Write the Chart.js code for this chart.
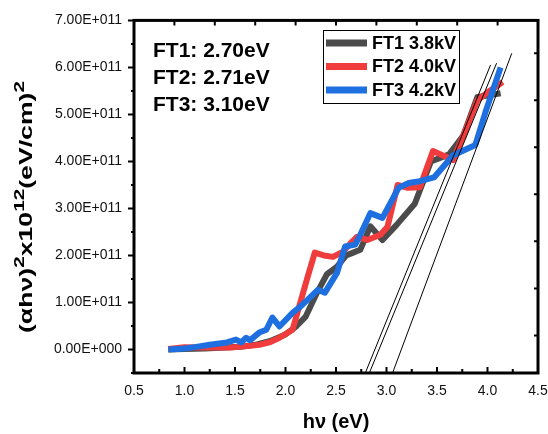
<!DOCTYPE html>
<html>
<head>
<meta charset="utf-8">
<script src="https://cdn.jsdelivr.net/npm/chart.js@4.4.0/dist/chart.umd.min.js"></script>
<style>
  html, body { margin: 0; padding: 0; background: #fff; }
  canvas { display: block; }
</style>
</head>
<body>
<canvas id="taucChart" width="548" height="434"></canvas>
<script>
// Tauc plot data: photon energy (eV) vs (alpha h nu)^2
const ft1Energy = [0.84, 1.00, 1.20, 1.40, 1.55, 1.70, 1.85, 2.00, 2.10, 2.20, 2.31, 2.41, 2.51, 2.60, 2.67, 2.74, 2.84, 2.96, 3.10, 3.28, 3.44, 3.62, 3.76, 3.90, 4.00, 4.13];
const ft1Values = [0, 0.01e11, 0.02e11, 0.04e11, 0.06e11, 0.10e11, 0.18e11, 0.32e11, 0.48e11, 0.70e11, 1.20e11, 1.60e11, 1.76e11, 2.00e11, 2.06e11, 2.12e11, 2.62e11, 2.33e11, 2.65e11, 3.10e11, 4.00e11, 4.15e11, 4.55e11, 5.37e11, 5.40e11, 5.45e11];

const ft2Energy = [0.84, 1.00, 1.20, 1.45, 1.60, 1.74, 1.85, 1.94, 2.07, 2.14, 2.22, 2.29, 2.38, 2.47, 2.57, 2.64, 2.71, 2.81, 2.94, 3.01, 3.11, 3.21, 3.33, 3.46, 3.66, 3.77, 3.90, 4.02, 4.15];
const ft2Values = [0.01e11, 0.05e11, 0.04e11, 0.04e11, 0.07e11, 0.10e11, 0.16e11, 0.25e11, 0.42e11, 0.95e11, 1.55e11, 2.06e11, 2.00e11, 1.97e11, 2.08e11, 2.25e11, 2.40e11, 2.33e11, 2.44e11, 2.61e11, 3.50e11, 3.44e11, 3.45e11, 4.22e11, 4.03e11, 4.60e11, 5.30e11, 5.50e11, 5.69e11];

const ft3Energy = [0.84, 1.00, 1.10, 1.25, 1.42, 1.51, 1.56, 1.61, 1.65, 1.74, 1.81, 1.87, 1.94, 2.07, 2.14, 2.22, 2.32, 2.39, 2.51, 2.59, 2.69, 2.74, 2.84, 2.96, 3.12, 3.22, 3.33, 3.47, 3.66, 3.88, 3.98, 4.13];
const ft3Values = [0, 0.02e11, 0.05e11, 0.10e11, 0.15e11, 0.21e11, 0.15e11, 0.25e11, 0.20e11, 0.36e11, 0.42e11, 0.68e11, 0.49e11, 0.78e11, 0.90e11, 1.06e11, 1.27e11, 1.21e11, 1.63e11, 2.19e11, 2.23e11, 2.44e11, 2.90e11, 2.80e11, 3.44e11, 3.54e11, 3.58e11, 3.66e11, 4.13e11, 4.35e11, 5.05e11, 6.00e11];

// linear extrapolation lines down to the x axis
const fit1Energy = [2.79, 4.03];
const fit1Values = [-0.5e11, 6.05e11];
const fit2Energy = [2.83, 4.09];
const fit2Values = [-0.5e11, 6.09e11];
const fit3Energy = [3.06, 4.24];
const fit3Values = [-0.5e11, 6.30e11];

const seriesLabels = ['FT1 3.8kV', 'FT2 4.0kV', 'FT3 4.2kV'];
const gapLabels = ['FT1: 2.70eV', 'FT2: 2.71eV', 'FT3: 3.10eV'];

const xTicks = [0.5, 1.0, 1.5, 2.0, 2.5, 3.0, 3.5, 4.0, 4.5];
const yTicks = [0, 1e11, 2e11, 3e11, 4e11, 5e11, 6e11, 7e11];

const FONT = "'Liberation Sans', Arial, sans-serif";
const colors = ['#4b4b4b', '#f03c3c', '#1e6fe0'];

function toPoints(xs, ys) {
  return xs.map((x, i) => ({ x: x, y: ys[i] }));
}

// 7e11 -> "7.00E+011"
function formatSci(v) {
  if (v === 0) return '0.00E+000';
  const e = Math.floor(Math.log10(Math.abs(v)));
  const m = v / Math.pow(10, e);
  return m.toFixed(2) + 'E' + (e < 0 ? '-' : '+') + String(Math.abs(e)).padStart(3, '0');
}

function fitLine(xs, ys) {
  return { label: '', data: toPoints(xs, ys), borderColor: '#000', borderWidth: 1, order: 0 };
}

// frame with tick marks on all four sides
const frame = {
  id: 'frame',
  afterDatasetsDraw(chart) {
    const { ctx, chartArea: a, scales: { x, y } } = chart;
    ctx.save();
    ctx.strokeStyle = '#000';
    ctx.lineWidth = 2;
    ctx.beginPath();
    // bottom: inward ticks
    for (let v = 0.5; v <= 4.5001; v += 0.25) {
      const px = x.getPixelForValue(v);
      const major = Math.abs(v * 2 - Math.round(v * 2)) < 1e-6;
      ctx.moveTo(px, a.bottom);
      ctx.lineTo(px, a.bottom - (major ? 6 : 4));
    }
    // top: inward ticks
    for (let v = 0.9; v <= 4.5; v += 0.4) {
      const px = x.getPixelForValue(v);
      ctx.moveTo(px, a.top);
      ctx.lineTo(px, a.top + 5);
    }
    // left: outward majors, minor halves
    for (let v = -0.5e11; v <= 7.0001e11; v += 0.5e11) {
      const py = y.getPixelForValue(v);
      const major = Math.abs(v / 1e11 - Math.round(v / 1e11)) < 1e-6;
      ctx.moveTo(a.left, py);
      ctx.lineTo(a.left - (major ? 6 : 3), py);
    }
    // right: inward ticks
    for (let v = 0.3e11; v <= 7e11; v += 1e11) {
      const py = y.getPixelForValue(v);
      ctx.moveTo(a.right, py);
      ctx.lineTo(a.right - 4, py);
    }
    ctx.stroke();
    ctx.lineWidth = 3;
    ctx.strokeRect(a.left, a.top, a.right - a.left, a.bottom - a.top);
    ctx.restore();
  }
};

// y axis title with superscripts, band gap notes and the legend box
const annotations = {
  id: 'annotations',
  afterDraw(chart) {
    const { ctx } = chart;
    ctx.save();

    const parts = [['(αhν)', false], ['2', true], ['x10', false], ['12', true], ['(eV/cm)', false], ['2', true]];
    const mainFont = 'bold 18px ' + FONT;
    const supFont = 'bold 14px ' + FONT;
    let total = 0;
    parts.forEach(([t, sup]) => { ctx.font = sup ? supFont : mainFont; total += ctx.measureText(t).width; });
    const targetLen = 252;
    ctx.translate(32, 207);
    ctx.rotate(-Math.PI / 2);
    ctx.scale(targetLen / total, 1);
    ctx.fillStyle = '#000';
    ctx.textBaseline = 'alphabetic';
    let cx = -total / 2;
    parts.forEach(([t, sup]) => {
      ctx.font = sup ? supFont : mainFont;
      ctx.fillText(t, cx, sup ? -8 : 0);
      cx += ctx.measureText(t).width;
    });
    ctx.setTransform(1, 0, 0, 1, 0, 0);

    ctx.font = 'bold 21px ' + FONT;
    ctx.fillStyle = '#000';
    gapLabels.forEach((t, i) => ctx.fillText(t, 153, 57 + i * 27));

    // legend
    ctx.lineWidth = 1;
    ctx.strokeStyle = '#000';
    ctx.strokeRect(323.5, 30.5, 136, 73);
    ctx.font = 'bold 18px ' + FONT;
    ctx.textBaseline = 'middle';
    chart.data.datasets.slice(0, 3).forEach((ds, i) => {
      const ly = 43 + i * 23.5;
      ctx.strokeStyle = ds.borderColor;
      ctx.lineWidth = 7;
      ctx.beginPath();
      ctx.moveTo(326, ly);
      ctx.lineTo(367, ly);
      ctx.stroke();
      ctx.fillStyle = '#000';
      ctx.fillText(ds.label, 372, ly + 1);
    });
    ctx.restore();
  }
};

const ctx = document.getElementById('taucChart').getContext('2d');
new Chart(ctx, {
  type: 'line',
  data: {
    datasets: [
      { label: seriesLabels[0], data: toPoints(ft1Energy, ft1Values), borderColor: colors[0], borderWidth: 6, order: 3 },
      { label: seriesLabels[1], data: toPoints(ft2Energy, ft2Values), borderColor: colors[1], borderWidth: 6, order: 2 },
      { label: seriesLabels[2], data: toPoints(ft3Energy, ft3Values), borderColor: colors[2], borderWidth: 6, order: 1 },
      fitLine(fit1Energy, fit1Values),
      fitLine(fit2Energy, fit2Values),
      fitLine(fit3Energy, fit3Values)
    ]
  },
  options: {
    responsive: false,
    animation: false,
    layout: { padding: { top: 20, right: 0, left: 0, bottom: 0 } },
    elements: {
      point: { radius: 0 },
      line: { tension: 0, borderJoinStyle: 'round', borderCapStyle: 'butt' }
    },
    plugins: { legend: { display: false }, tooltip: { enabled: false } },
    scales: {
      x: {
        type: 'linear',
        min: 0.5,
        max: 4.5,
        afterBuildTicks: s => { s.ticks = xTicks.map(v => ({ value: v })); },
        // keep the plot edge at 538px: only half of the last label hangs over
        afterFit: s => { s.height = 61; s.paddingRight = 10; },
        grid: { display: false, drawTicks: false },
        border: { display: false },
        ticks: {
          autoSkip: false,
          maxRotation: 0,
          padding: 10,
          color: '#111',
          font: { family: FONT, size: 14 },
          callback: v => v.toFixed(1)
        },
        title: {
          display: true,
          text: 'hν (eV)',
          color: '#000',
          font: { family: FONT, size: 20, weight: 'bold' },
          padding: 0
        }
      },
      y: {
        type: 'linear',
        min: -0.5e11,
        max: 7e11,
        afterBuildTicks: s => { s.ticks = yTicks.map(v => ({ value: v })); },
        afterFit: s => { s.width = 134; },
        grid: { display: false, drawTicks: false },
        border: { display: false },
        ticks: {
          autoSkip: false,
          padding: 12,
          color: '#111',
          font: { family: FONT, size: 14 },
          callback: v => formatSci(v)
        }
      }
    }
  },
  plugins: [frame, annotations]
});
</script>
</body>
</html>
